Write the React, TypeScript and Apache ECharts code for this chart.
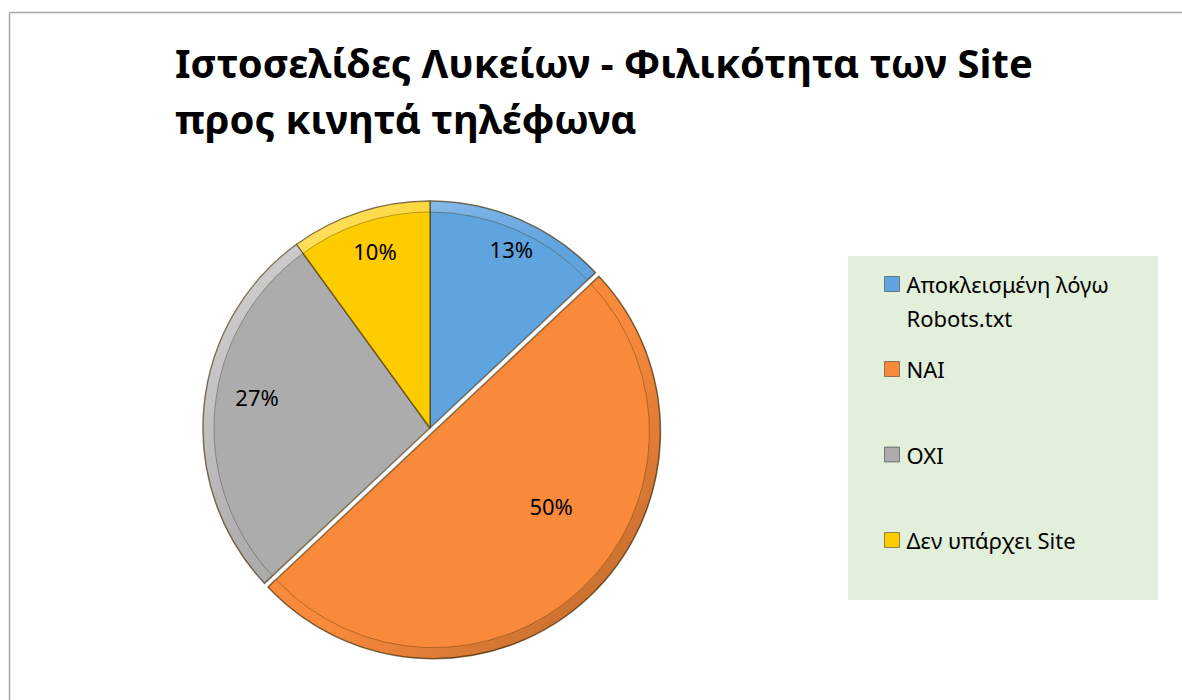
import React, { useEffect, useRef } from 'react';
import * as echarts from 'echarts';

const TITLE_LINES = ['Ιστοσελίδες Λυκείων - Φιλικότητα των Site', 'προς κινητά τηλέφωνα'];
const CATEGORIES = ['Αποκλεισμένη λόγω\nRobots.txt', 'ΝΑΙ', 'ΟΧΙ', 'Δεν υπάρχει Site'];
const VALUES = [13, 50, 27, 10];
const COLORS = ['#5fa3df', '#f98a3b', '#acacac', '#ffcc00'];
const EXPLODED = [false, true, false, false];

// style-only: label nudges (dx, dy) relative to the 'inside' anchor
const LABEL_SHIFT = [
  [35, -72],
  [38, -11],
  [-57, -20],
  [-19, -66],
];
const LEGEND_TOPS = [233, 358, 443.5, 529];

const FONT = "'Noto Sans', 'Open Sans', sans-serif";

export default function App() {
  const ref = useRef<HTMLDivElement>(null);
  useEffect(() => {
    document.body.style.margin = '0';
    const chart = echarts.init(ref.current!, null, { renderer: 'svg' });
    const legends = CATEGORIES.map((name, i) => ({
      data: [name],
      orient: 'vertical',
      left: 884,
      top: LEGEND_TOPS[i],
      padding: 0,
      itemWidth: 15,
      itemHeight: 15,
      icon: 'rect',
      selectedMode: false,
      formatter: (n: string) => (n.indexOf('\n') >= 0 ? '\n' + n : n),
      textStyle: {
        fontFamily: FONT,
        fontSize: 22,
        color: '#000',
        lineHeight: i === 0 ? 34 : 15,
        padding: [0, 0, 0, 2],
      },
      itemStyle: { borderColor: 'rgba(0,0,0,0.4)', borderWidth: 1 },
    }));
    const bevel = new echarts.graphic.LinearGradient(
      203, 201, 657, 655,
      [
        { offset: 0, color: 'rgba(255,255,255,0.55)' },
        { offset: 0.45, color: 'rgba(255,255,255,0)' },
        { offset: 0.6, color: 'rgba(0,0,0,0)' },
        { offset: 1, color: 'rgba(0,0,0,0.28)' },
      ],
      true
    );
    const pieData = (withColor: boolean) =>
      CATEGORIES.map((name, i) => ({
        name,
        value: VALUES[i],
        selected: EXPLODED[i],
        itemStyle: withColor ? { color: COLORS[i] } : { color: bevel },
      }));
    chart.setOption({
      animation: false,
      title: {
        text: TITLE_LINES.join('\n'),
        left: 175,
        top: 34,
        padding: 0,
        textStyle: {
          fontFamily: FONT,
          fontSize: 40,
          fontWeight: 'bold',
          color: '#000',
          lineHeight: 56,
        },
      },
      graphic: [
        { type: 'line', shape: { x1: 9.5, y1: 12.5, x2: 1182, y2: 12.5 }, style: { stroke: '#a6a6a6', lineWidth: 1.5 } },
        { type: 'line', shape: { x1: 9.5, y1: 12.5, x2: 9.5, y2: 700 }, style: { stroke: '#a6a6a6', lineWidth: 1.5 } },
        { type: 'rect', z: -1, shape: { x: 848, y: 256, width: 310, height: 344 }, style: { fill: '#e2efda' } },
      ],
      legend: legends,
      series: [
        {
          type: 'pie',
          center: [430, 428],
          radius: 227,
          startAngle: 90,
          clockwise: true,
          selectedMode: 'multiple',
          selectedOffset: 5,
          label: {
            show: true,
            position: 'inside',
            formatter: (p: any) => `${p.value}%`,
            fontFamily: FONT,
            fontSize: 22,
            color: '#000',
          },
          labelLine: { show: false },
          labelLayout: (params: any) => {
            const s = LABEL_SHIFT[params.dataIndex];
            return { dx: s[0], dy: s[1] };
          },
          itemStyle: { borderColor: 'rgba(60,40,0,0.55)', borderWidth: 1.5 },
          emphasis: { disabled: true },
          data: pieData(true),
        },
        {
          type: 'pie',
          center: [430, 428],
          radius: [216, 227],
          startAngle: 90,
          clockwise: true,
          selectedMode: 'multiple',
          selectedOffset: 5,
          silent: true,
          label: { show: false },
          labelLine: { show: false },
          itemStyle: { borderColor: 'rgba(60,40,0,0.35)', borderWidth: 1 },
          emphasis: { disabled: true },
          data: pieData(false),
        },
      ],
    });
    return () => chart.dispose();
  }, []);
  return <div ref={ref} style={{ width: 1182, height: 700 }} />;
}
